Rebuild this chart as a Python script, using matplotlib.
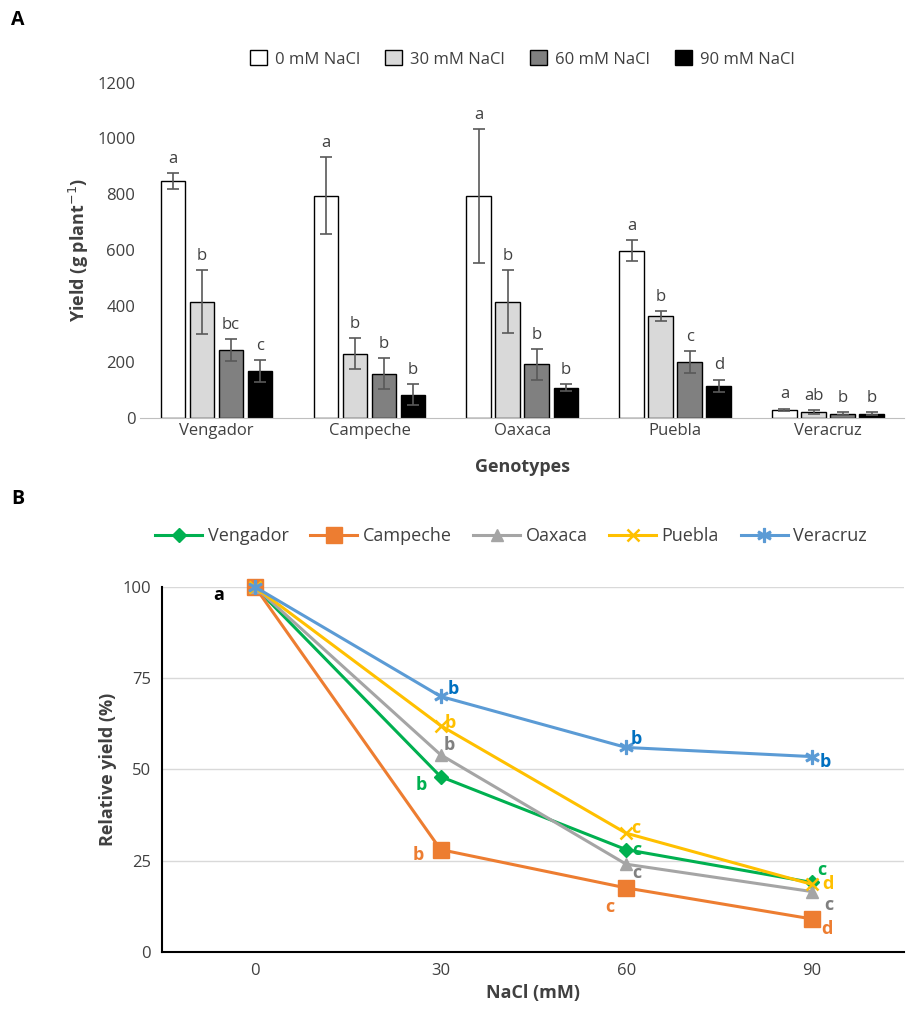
import matplotlib
matplotlib.use("Agg")
import matplotlib.pyplot as plt
import numpy as np

plt.rcParams["font.family"] = ["Open Sans", "DejaVu Sans"]

genotypes = ["Vengador", "Campeche", "Oaxaca", "Puebla", "Veracruz"]
treatments = ["0 mM NaCl", "30 mM NaCl", "60 mM NaCl", "90 mM NaCl"]
yield_vals = [
    [848, 795, 793, 598, 28],
    [415, 230, 415, 365, 20],
    [243, 158, 192, 200, 15],
    [168, 82, 108, 115, 15],
]
yield_err = [
    [28, 138, 240, 38, 5],
    [115, 55, 113, 18, 8],
    [40, 55, 55, 38, 5],
    [40, 38, 12, 22, 5],
]
yield_letters = [
    ["a", "a", "a", "a", "a"],
    ["b", "b", "b", "b", "ab"],
    ["bc", "b", "b", "c", "b"],
    ["c", "b", "b", "d", "b"],
]
bar_colors = ["white", "#d9d9d9", "#808080", "black"]

nacl = ["0", "30", "60", "90"]
rel = {
    "Vengador": [100, 48, 28, 19],
    "Campeche": [100, 28, 17.5, 9],
    "Oaxaca": [100, 54, 24, 16.5],
    "Puebla": [100, 62, 32.5, 18.5],
    "Veracruz": [100, 70, 56, 53.5],
}
rel_letters = {
    "Vengador": ["", "b", "c", "c"],
    "Campeche": ["", "b", "c", "d"],
    "Oaxaca": ["", "b", "c", "c"],
    "Puebla": ["", "b", "c", "d"],
    "Veracruz": ["", "b", "b", "b"],
}
line_colors = {"Vengador": "#00b050", "Campeche": "#ed7d31", "Oaxaca": "#a5a5a5",
               "Puebla": "#ffc000", "Veracruz": "#5b9bd5"}
letter_colors = {"Vengador": "#00b050", "Campeche": "#ed7d31", "Oaxaca": "#808080",
                 "Puebla": "#ffc000", "Veracruz": "#0070c0"}
markers = {"Vengador": ("D", 7), "Campeche": ("s", 11), "Oaxaca": ("^", 9),
           "Puebla": ("x", 9), "Veracruz": ("$\\ast$", 10)}
# letter offsets (points) per series, per point
offsets = {
    "Vengador": [None, (-14, -6), (8, 0), (7, 9)],
    "Campeche": [None, (-16, -4), (-12, -14), (11, -7)],
    "Oaxaca": [None, (6, 7), (8, -6), (12, -10)],
    "Puebla": [None, (7, 2), (7, 4), (12, 0)],
    "Veracruz": [None, (9, 5), (7, 6), (10, -4)],
}

fig = plt.figure(figsize=(9.22, 10.19), dpi=100)

# Panel A
ax = fig.add_axes([0.152, 0.590, 0.829, 0.329])
x = np.arange(len(genotypes))
w = 0.19
for i in range(4):
    xs = x + (i - 1.5) * w
    ax.bar(xs, yield_vals[i], w * 0.85, color=bar_colors[i], edgecolor="black", linewidth=1,
           label=treatments[i], yerr=yield_err[i], ecolor="#595959", capsize=4,
           error_kw=dict(elinewidth=1.2, capthick=1.2))
    for xx, v, e, l in zip(xs, yield_vals[i], yield_err[i], yield_letters[i]):
        ax.text(xx, v + e + 22, l, ha="center", va="bottom", fontsize=12, color="#404040")
ax.set_xlim(-0.5, 4.5)
ax.set_ylim(0, 1200)
ax.set_yticks(range(0, 1201, 200))
ax.set_xticks(x)
ax.set_xticklabels(genotypes)
ax.tick_params(axis="both", labelsize=12, colors="#404040", length=0)
for s in ["top", "right", "left"]:
    ax.spines[s].set_visible(False)
ax.spines["bottom"].set_color("#bfbfbf")
ax.set_ylabel("Yield (g plant$^{-1}$)", fontsize=13, fontweight="bold", color="#404040")
ax.set_xlabel("Genotypes", fontsize=13, fontweight="bold", color="#404040", labelpad=14)
ax.legend(loc="lower center", bbox_to_anchor=(0.5, 1.0), ncol=4, frameon=False, fontsize=12,
          handlelength=1.0, handleheight=1.0, columnspacing=1.5, handletextpad=0.5,
          labelcolor="#404040")
fig.text(0.012, 0.975, "A", fontsize=14, fontweight="bold")

# Panel B
bx = fig.add_axes([0.176, 0.066, 0.805, 0.358])
xi = np.arange(len(nacl))
for g in genotypes:
    m, ms = markers[g]
    bx.plot(xi, rel[g], color=line_colors[g], linewidth=2.2, marker=m, markersize=ms,
            markeredgewidth=1.8 if m == "x" else 1, label=g, clip_on=False)
    for j, l in enumerate(rel_letters[g]):
        if l:
            bx.annotate(l, (xi[j], rel[g][j]), xytext=offsets[g][j], textcoords="offset points",
                        ha="center", va="center", fontsize=13, fontweight="bold",
                        color=letter_colors[g])
bx.annotate("a", (0, 100), xytext=(-26, -6), textcoords="offset points", ha="center",
            va="center", fontsize=13, fontweight="bold", color="black")
bx.set_xlim(-0.5, 3.5)
bx.set_ylim(0, 100)
bx.set_yticks([0, 25, 50, 75, 100])
bx.set_xticks(xi)
bx.set_xticklabels(nacl)
bx.grid(axis="y", color="#d9d9d9", linewidth=1)
bx.set_axisbelow(True)
bx.tick_params(axis="both", labelsize=12, colors="#404040", length=0, pad=8)
for s in ["top", "right"]:
    bx.spines[s].set_visible(False)
for s in ["left", "bottom"]:
    bx.spines[s].set_linewidth(1.5)
bx.set_ylabel("Relative yield (%)", fontsize=13, fontweight="bold", color="#404040")
bx.set_xlabel("NaCl (mM)", fontsize=13, fontweight="bold", color="#404040")
bx.legend(loc="lower center", bbox_to_anchor=(0.47, 1.07), ncol=5, frameon=False, fontsize=13,
          handlelength=2.6, columnspacing=1.2, handletextpad=0.3, labelcolor="#404040")
fig.text(0.012, 0.505, "B", fontsize=14, fontweight="bold")

fig.savefig("out.png", dpi=100)
